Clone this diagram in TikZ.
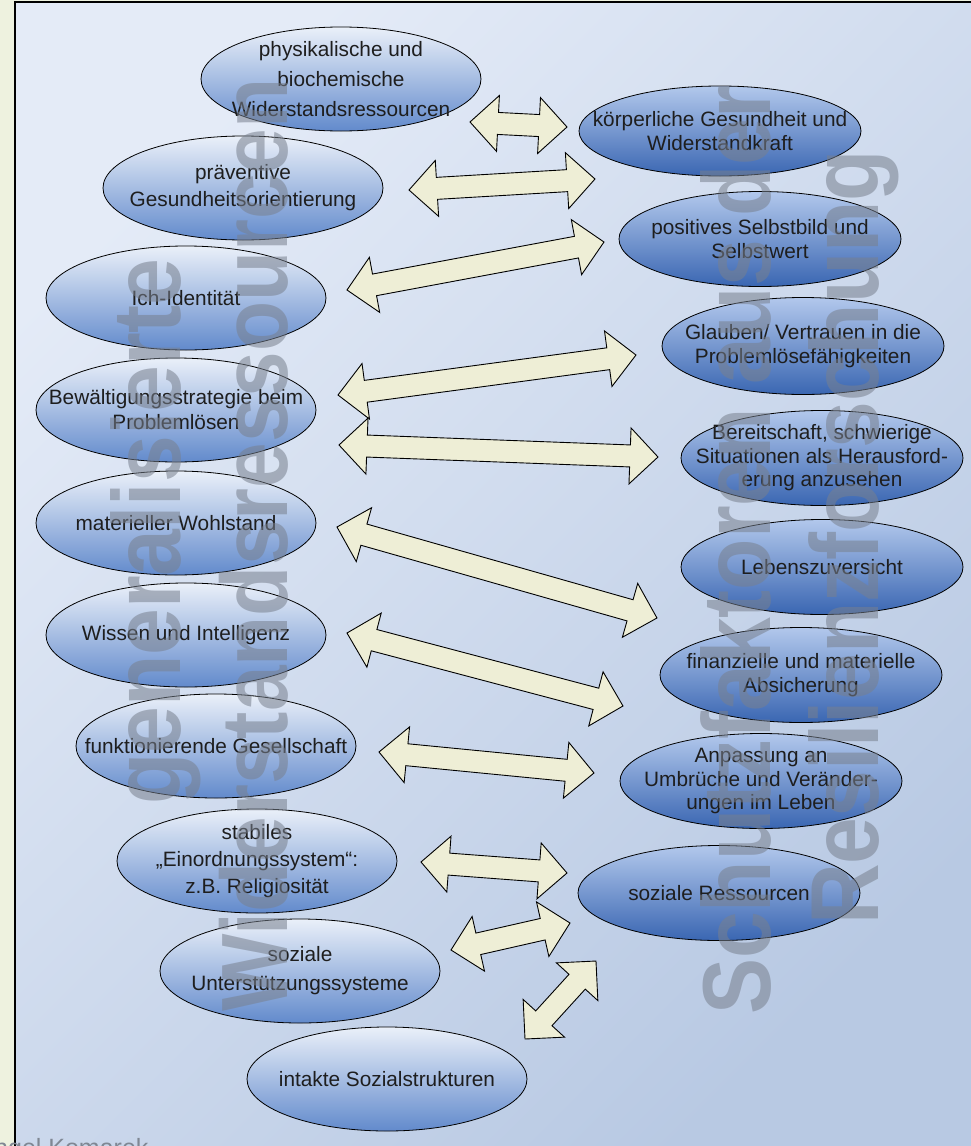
\documentclass[tikz,border=0pt]{standalone}
\usepackage{fontspec}
\setmainfont{Liberation Sans}
\usetikzlibrary{shapes.geometric}
\definecolor{beige}{RGB}{238,242,223}
\definecolor{bgTL}{RGB}{228,235,247}
\definecolor{bgBR}{RGB}{184,201,227}
\definecolor{lTL}{RGB}{234,240,249}
\definecolor{lBR}{RGB}{98,138,204}
\definecolor{rTL}{RGB}{178,200,236}
\definecolor{rBR}{RGB}{58,102,178}
\definecolor{arrfill}{RGB}{238,238,214}
\definecolor{wmark}{RGB}{120,128,142}
\definecolor{txt}{RGB}{30,30,30}
\definecolor{credit}{RGB}{127,135,147}
\newdimen\bax \newdimen\bay \newdimen\bbx \newdimen\bby
\newcommand\blockarrow[2]{%
  \pgfextractx{\bax}{\pgfpointanchor{#1}{center}}%
  \pgfextracty{\bay}{\pgfpointanchor{#1}{center}}%
  \pgfextractx{\bbx}{\pgfpointanchor{#2}{center}}%
  \pgfextracty{\bby}{\pgfpointanchor{#2}{center}}%
  \pgfmathsetmacro\barang{atan2(\the\bby-\the\bay,\the\bbx-\the\bax)}%
  \pgfmathsetmacro\barlen{veclen(\the\bbx-\the\bax,\the\bby-\the\bay)}%
  \pgfmathsetmacro\barb{\barlen-28}%
  \begin{scope}[shift={(#1)}, rotate=\barang]
    \draw[blockarr] (0pt,0pt) -- (28pt,28pt) -- (28pt,11pt) -- (\barb pt,11pt)
      -- (\barb pt,28pt) -- (\barlen pt,0pt) -- (\barb pt,-28pt) -- (\barb pt,-11pt)
      -- (28pt,-11pt) -- (28pt,-28pt) -- cycle;
  \end{scope}}
\tikzset{
  ellbase/.style={ellipse, draw=black, line width=0.8pt, inner sep=0pt, shading angle=45},
  lell/.style={ellbase, top color=lTL, bottom color=lBR, minimum width=280, minimum height=104},
  rell/.style={ellbase, top color=rTL, bottom color=rBR, minimum width=282, minimum height=95},
  ltext/.style={align=center, inner sep=0pt, text=txt, font=\fontsize{20.8}{27}\selectfont},
  rtext/.style={align=center, inner sep=0pt, text=txt, font=\fontsize{20.8}{23.5}\selectfont},
  blockarr/.style={draw=black, line width=0.9pt, fill=arrfill, line join=miter},
  wm/.style={font=\fontsize{84}{84}\selectfont\bfseries, text=wmark, opacity=0.55,
    rotate=90, yscale=1.15, anchor=base west, inner sep=0pt}
}
\begin{document}
\begin{tikzpicture}[x=1pt,y=-1pt]
\useasboundingbox (0,0) rectangle (971,1146);
% background and frame
\fill[beige] (0,0) rectangle (971,1146);
\shade[top color=bgTL, bottom color=bgBR, shading angle=45] (15,2) rectangle (980,1160);
\draw[line width=2pt] (15,1160) -- (15,2) -- (980,2);

% left column
\node[lell, label={[ltext, font=\fontsize{20.8}{30}\selectfont]center:{physikalische und\\biochemische\\Widerstandsressourcen}}] (e1) at (341,79) {};
\node[lell, label={[ltext]center:{präventive\\Gesundheitsorientierung}}] (e2) at (243,188) {};
\node[lell, label={[ltext]center:{Ich-Identität}}] (e3) at (186,298) {};
\node[lell, label={[ltext, font=\fontsize{20.8}{25}\selectfont]center:{Bewältigungsstrategie beim\\Problemlösen}}] (e4) at (176,410) {};
\node[lell, label={[ltext]center:{materieller Wohlstand}}] (e5) at (176,523) {};
\node[lell, label={[ltext]center:{Wissen und Intelligenz}}] (e6) at (186,635) {};
\node[lell, label={[ltext]center:{funktionierende Gesellschaft}}] (e7) at (216,746) {};
\node[lell, label={[ltext]center:{stabiles\\„Einordnungssystem“:\\z.B. Religiosität}}] (e8) at (257,861) {};
\node[lell, label={[ltext, font=\fontsize{20.8}{29}\selectfont]center:{soziale\\Unterstützungssysteme}}] (e9) at (300,971) {};
\node[lell, label={[ltext]center:{intakte Sozialstrukturen}}] (e10) at (387,1079) {};

% right column
\node[rell, minimum height=90, label={[rtext]center:{körperliche Gesundheit und\\Widerstandkraft}}] (r1) at (720,131) {};
\node[rell, label={[rtext]center:{positives Selbstbild und\\Selbstwert}}] (r2) at (760,239) {};
\node[rell, minimum height=97, label={[rtext]center:{Glauben/ Vertrauen in die\\Problemlösefähigkeiten}}] (r3) at (803,346) {};
\node[rell, label={[rtext]center:{Bereitschaft, schwierige\\Situationen als Herausford-\\erung anzusehen}}] (r4) at (822,458) {};
\node[rell, label={[rtext]center:{Lebenszuversicht}}] (r5) at (822,567) {};
\node[rell, label={[rtext]center:{finanzielle und materielle\\Absicherung}}] (r6) at (801,675) {};
\node[rell, label={[rtext]center:{Anpassung an\\Umbrüche und Veränder-\\ungen im Leben}}] (r7) at (761,781) {};
\node[rell, label={[rtext]center:{soziale Ressourcen}}] (r8) at (719,893) {};

% arrow end points
\coordinate (a1l) at (470,122);  \coordinate (a1r) at (567,127);
\coordinate (a2l) at (409,190);  \coordinate (a2r) at (595,179);
\coordinate (a3l) at (347,290);  \coordinate (a3r) at (604,242);
\coordinate (a4l) at (338,395);  \coordinate (a4r) at (636,355);
\coordinate (a5l) at (339,445);  \coordinate (a5r) at (658,457);
\coordinate (a6l) at (337,527);  \coordinate (a6r) at (657,618);
\coordinate (a7l) at (347,633);  \coordinate (a7r) at (623,706);
\coordinate (a8l) at (379,752);  \coordinate (a8r) at (594,773);
\coordinate (a9l) at (421,862);  \coordinate (a9r) at (567,873);
\coordinate (a10l) at (451,950); \coordinate (a10r) at (570,923);
\coordinate (a11l) at (525,1039); \coordinate (a11r) at (596,961);
\blockarrow{a1l}{a1r}
\blockarrow{a2l}{a2r}
\blockarrow{a3l}{a3r}
\blockarrow{a4l}{a4r}
\blockarrow{a5l}{a5r}
\blockarrow{a6l}{a6r}
\blockarrow{a7l}{a7r}
\blockarrow{a8l}{a8r}
\blockarrow{a9l}{a9r}
\blockarrow{a10l}{a10r}
\blockarrow{a11l}{a11r}

% watermarks
\node[wm] (wmA) at (180,805) {generalisierte};
\node[wm, font=\fontsize{82}{82}\selectfont\bfseries] (wmB) at (287,1012) {Widerstandsressourcen};
\node[wm] (wmC) at (770,1015) {Schutzfaktoren aus der};
\node[wm] (wmD) at (878,925) {Resilienzforschung};

% credit
\node[anchor=base west, inner sep=0pt, text=credit, font=\fontsize{25}{25}\selectfont] (cr) at (-6,1156) {ngel Komarek};
\end{tikzpicture}
\end{document}
